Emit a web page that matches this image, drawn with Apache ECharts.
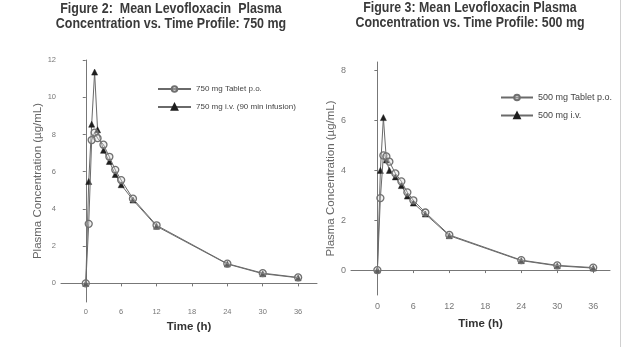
<!DOCTYPE html>
<html>
<head>
<meta charset="utf-8">
<script src="https://cdn.jsdelivr.net/npm/echarts@6/dist/echarts.min.js"></script>
<style>
  html, body { margin: 0; padding: 0; background: #fff; }
  #chart { width: 624px; height: 347px; }
</style>
</head>
<body>
<div id="chart"></div>
<script>
// Sampling times (h)
const times = [0, 0.5, 1, 1.5, 2, 3, 4, 5, 6, 8, 12, 24, 30, 36];

// 750 mg dose (µg/mL)
const po750 = [0, 3.2, 7.7, 8.1, 7.8, 7.45, 6.8, 6.1, 5.55, 4.55, 3.12, 1.06, 0.55, 0.32];
const iv750 = [0, 5.47, 8.55, 11.35, 8.25, 7.15, 6.55, 5.85, 5.3, 4.48, 3.07, 1.04, 0.52, 0.3];

// 500 mg dose (µg/mL)
const po500 = [0, 2.89, 4.6, 4.56, 4.35, 3.88, 3.56, 3.12, 2.8, 2.31, 1.41, 0.4, 0.19, 0.1];
const iv500 = [0, 4.0, 6.12, 4.42, 4.0, 3.74, 3.39, 2.97, 2.69, 2.25, 1.38, 0.38, 0.17, 0.08];

// Axis tick values
const xTicks = [0, 6, 12, 18, 24, 30, 36];
const yTicks750 = [0, 2, 4, 6, 8, 10, 12];
const yTicks500 = [0, 2, 4, 6, 8];

const names = {
  po750: '750 mg Tablet p.o.',
  iv750: '750 mg i.v. (90 min infusion)',
  po500: '500 mg Tablet p.o.',
  iv500: '500 mg i.v.'
};

const titles = [
  ['Figure 2:  Mean Levofloxacin  Plasma', 'Concentration vs. Time Profile: 750 mg'],
  ['Figure 3: Mean Levofloxacin Plasma', 'Concentration vs. Time Profile: 500 mg']
];

const pairs = vals => times.map((t, i) => [t, vals[i]]);

const axisGray = '#777';
const lineGray = '#6a6a6a';

function xAxis(gridIndex, min, max, labelSize, labelMargin, nameGap) {
  return {
    type: 'value', gridIndex, min, max,
    name: 'Time (h)', nameLocation: 'middle', nameGap,
    nameTextStyle: { fontFamily: 'Liberation Sans', fontWeight: 'bold', fontSize: 11.5, color: '#333' },
    axisLine: { show: true, lineStyle: { color: axisGray, width: 1 } },
    axisTick: { show: true, length: 3, customValues: xTicks, lineStyle: { color: axisGray } },
    axisLabel: { customValues: xTicks, fontSize: labelSize, color: '#777', margin: labelMargin, fontFamily: 'Liberation Sans' },
    splitLine: { show: false }
  };
}

function yAxis(gridIndex, min, max, ticks, labelSize, nameGap) {
  return {
    type: 'value', gridIndex, min, max,
    name: 'Plasma Concentration (µg/mL)', nameLocation: 'middle', nameGap,
    nameTextStyle: { fontFamily: 'Liberation Sans', fontSize: 11.5, color: '#666' },
    axisLine: { show: true, lineStyle: { color: axisGray, width: 1 } },
    axisTick: { show: true, length: 3, customValues: ticks, lineStyle: { color: axisGray } },
    axisLabel: { customValues: ticks, fontSize: labelSize, color: '#777', margin: 5, fontFamily: 'Liberation Sans' },
    splitLine: { show: false }
  };
}

function ivSeries(name, vals, idx) {
  return {
    name, type: 'line', xAxisIndex: idx, yAxisIndex: idx,
    data: pairs(vals), symbol: 'triangle', symbolSize: 6,
    lineStyle: { color: lineGray, width: 1 },
    itemStyle: { color: '#1e1e1e', borderColor: '#1e1e1e', borderWidth: 0.5 },
    z: 2, animation: false
  };
}

function poSeries(name, vals, idx) {
  return {
    name, type: 'line', xAxisIndex: idx, yAxisIndex: idx,
    data: pairs(vals), symbol: 'circle', symbolSize: 7,
    lineStyle: { color: lineGray, width: 1 },
    itemStyle: { color: 'rgba(215,215,215,0.35)', borderColor: '#707070', borderWidth: 1.3 },
    z: 3, animation: false
  };
}

// Condensed bold heading lines
function titleLine(text, cx, y, sx) {
  return {
    type: 'text', x: cx, y, scaleX: sx,
    style: {
      text, fill: '#3a3a3a', textAlign: 'center', textVerticalAlign: 'middle',
      font: 'bold 14px "Liberation Sans", sans-serif'
    }
  };
}

const chart = echarts.init(document.getElementById('chart'), null, { renderer: 'canvas' });
chart.setOption({
  backgroundColor: '#fff',
  animation: false,
  grid: [
    { left: 61, right: 307, top: 60, bottom: 45 },
    { left: 351, right: 14, top: 62, bottom: 52 }
  ],
  legend: [
    { data: [names.po750, names.iv750], orient: 'vertical', left: 157, top: 85, padding: 0,
      itemWidth: 33, itemHeight: 7, itemGap: 10,
      textStyle: { fontSize: 8, color: '#444', fontFamily: 'Liberation Sans' } },
    { data: [names.po500, names.iv500], orient: 'vertical', left: 500, top: 93, padding: 0,
      itemWidth: 32, itemHeight: 7, itemGap: 9,
      textStyle: { fontSize: 9, color: '#444', fontFamily: 'Liberation Sans' } }
  ],
  xAxis: [
    xAxis(0, -4.2, 39.2, 7.5, 6, 19),
    xAxis(1, -4.4, 38.8, 9, 7, 23)
  ],
  yAxis: [
    yAxis(0, -1, 12, yTicks750, 7.5, 16),
    yAxis(1, -1, 8.35, yTicks500, 9, 14)
  ],
  series: [
    ivSeries(names.iv750, iv750, 0),
    poSeries(names.po750, po750, 0),
    ivSeries(names.iv500, iv500, 1),
    poSeries(names.po500, po500, 1)
  ],
  graphic: [
    titleLine(titles[0][0], 171, 9, 0.89),
    titleLine(titles[0][1], 171, 24, 0.89),
    titleLine(titles[1][0], 470, 8, 0.885),
    titleLine(titles[1][1], 470, 23, 0.885),
    { type: 'line', shape: { x1: 620.5, y1: 0, x2: 620.5, y2: 347 },
      style: { stroke: '#d0d0d0', lineWidth: 1 } }
  ]
});
</script>
</body>
</html>
